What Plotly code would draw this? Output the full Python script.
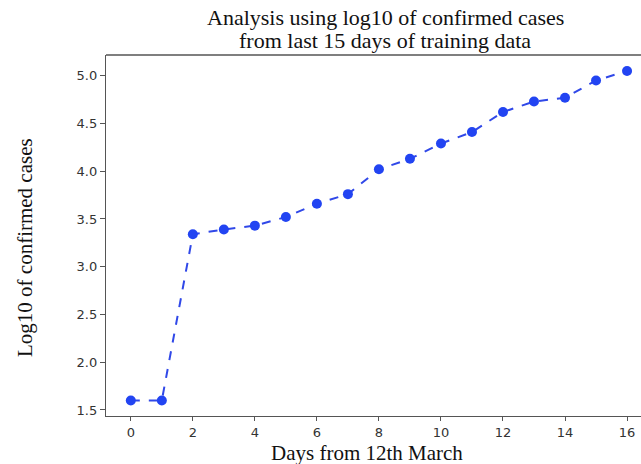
import plotly.graph_objects as go

days = list(range(17))
log_cases = [1.60, 1.60, 3.34, 3.39, 3.43, 3.52, 3.66, 3.76, 4.02, 4.13,
             4.29, 4.41, 4.62, 4.73, 4.77, 4.95, 5.05]
x_ticks = [0, 2, 4, 6, 8, 10, 12, 14, 16]
y_ticks = [1.5, 2.0, 2.5, 3.0, 3.5, 4.0, 4.5, 5.0]

title_lines = ["Analysis using log10 of confirmed cases",
               "from last 15 days of training data"]
x_label = "Days from 12th March"
y_label = "Log10 of confirmed cases"

serif = "Liberation Serif, Times New Roman, serif"
sans = "DejaVu Sans, sans-serif"
spine = "#555555"

fig = go.Figure()
fig.add_trace(go.Scatter(
    x=days, y=log_cases, mode="lines+markers",
    line=dict(color="#3048e8", width=2, dash="dash"),
    marker=dict(color="#2244f2", size=10),
    showlegend=False,
))

annotations = []
for line, shift in zip(title_lines, [38, 15]):
    annotations.append(dict(
        text=line, xref="paper", yref="paper", x=(385 - 106) / 535, y=1,
        yshift=shift, xanchor="center", yanchor="middle", showarrow=False,
        font=dict(family=serif, size=22, color="#111111")))
annotations.append(dict(
    text=x_label, xref="paper", yref="paper", x=(367 - 106) / 535,
    y=0, yshift=-37, xanchor="center", yanchor="middle", showarrow=False,
    font=dict(family=serif, size=21, color="#111111")))
annotations.append(dict(
    text=y_label, xref="paper", yref="paper", x=0, xshift=-81,
    y=(416 - 248) / 361, xanchor="center", yanchor="middle", textangle=-90,
    showarrow=False, font=dict(family=serif, size=21, color="#111111")))

fig.update_layout(
    width=641, height=464,
    margin=dict(l=106, r=0, t=55, b=48),
    paper_bgcolor="white", plot_bgcolor="white",
    xaxis=dict(
        range=[-0.8, 16.45], tickvals=x_ticks, ticktext=[str(v) for v in x_ticks],
        showgrid=False, zeroline=False, showline=True, linecolor=spine, linewidth=1.3,
        ticks="outside", ticklen=4, tickcolor=spine,
        tickfont=dict(family=sans, size=13, color="#333333"),
    ),
    yaxis=dict(
        range=[1.437, 5.217], tickvals=y_ticks, ticktext=[f"{v:.1f}" for v in y_ticks],
        showgrid=False, zeroline=False, showline=True, linecolor=spine, linewidth=1.3,
        ticks="outside", ticklen=5, tickcolor=spine,
        tickfont=dict(family=sans, size=13, color="#333333"),
    ),
    shapes=[dict(type="line", xref="paper", yref="paper", x0=0, x1=1, y0=1, y1=1,
                 line=dict(color=spine, width=1.3))],
    annotations=annotations,
)

fig.write_html("out.html", config={"displayModeBar": False},
               post_script="document.body.style.margin='0';document.body.style.overflow='hidden';")
